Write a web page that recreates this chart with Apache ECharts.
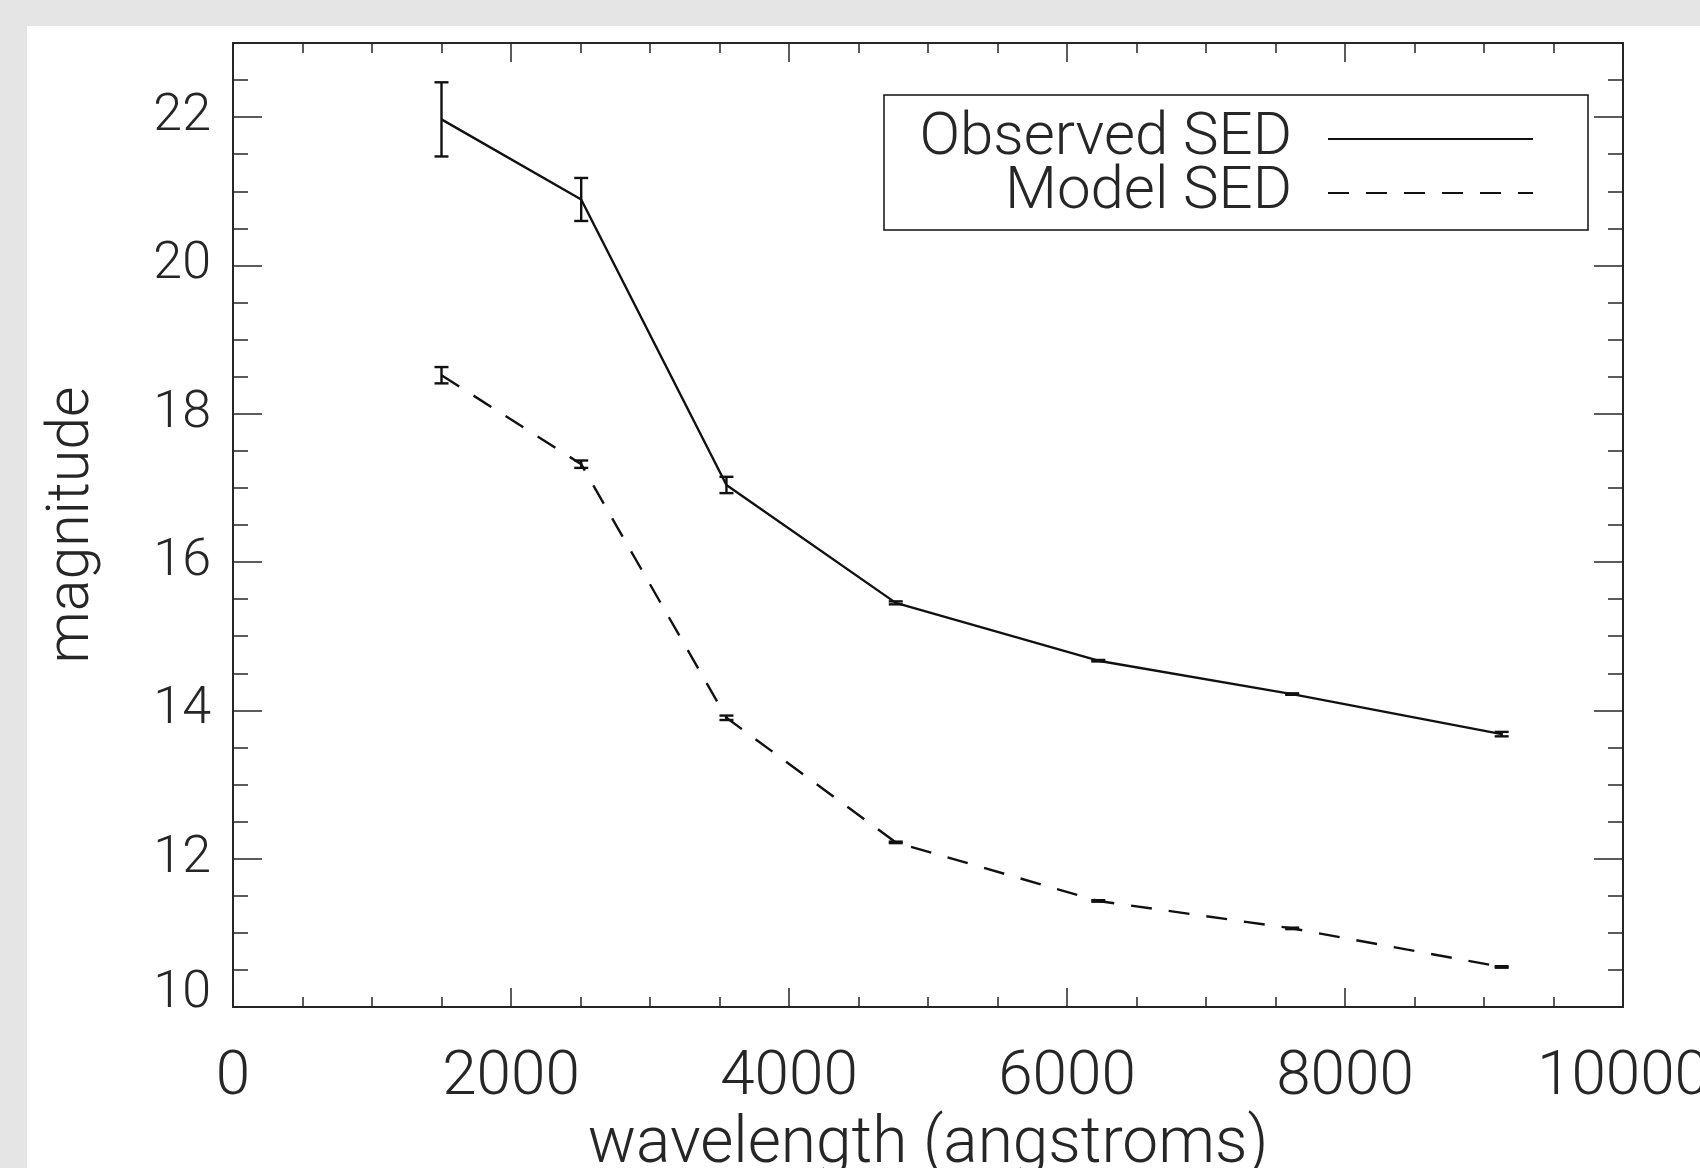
<!DOCTYPE html>
<html>
<head>
<meta charset="utf-8">
<script src="https://cdn.jsdelivr.net/npm/echarts@6/dist/echarts.min.js"></script>
<style>
  html, body { margin: 0; padding: 0; width: 1700px; height: 1168px; background: #e5e5e5; overflow: hidden; }
  #chart { position: absolute; left: 27px; top: 26px; width: 1673px; height: 1142px; background: #ffffff; }
</style>
</head>
<body>
<div id="chart"></div>
<script>
// ---- data ----
const wavelengths = [1500, 2505, 3550, 4768, 6225, 7620, 9127];
const observedMag = [21.97, 20.89, 17.04, 15.45, 14.67, 14.22, 13.68];
const observedErr = [0.50, 0.29, 0.11, 0.02, 0.01, 0.01, 0.03];
const modelMag    = [18.52, 17.32, 13.90, 12.22, 11.43, 11.06, 10.54];
const modelErr    = [0.11, 0.05, 0.03, 0.01, 0.01, 0.01, 0.01];
const seriesNames = ['Observed SED', 'Model SED'];
const xTitle = 'wavelength (angstroms)';
const yTitle = 'magnitude';

const FONT = 'Roboto';
const FW = 300;
const INK = '#262626';

const obsPts = wavelengths.map((w, i) => [w, observedMag[i]]);
const modPts = wavelengths.map((w, i) => [w, modelMag[i]]);
const obsErrData = wavelengths.map((w, i) => [w, observedMag[i], observedErr[i]]);
const modErrData = wavelengths.map((w, i) => [w, modelMag[i], modelErr[i]]);

function errRender(params, api) {
  const x = api.value(0), y = api.value(1), e = api.value(2);
  const top = api.coord([x, y + e]);
  const bot = api.coord([x, y - e]);
  const cap = 7;
  const style = { stroke: '#111', lineWidth: 2.4 };
  return {
    type: 'group',
    children: [
      { type: 'line', shape: { x1: top[0], y1: top[1], x2: bot[0], y2: bot[1] }, style },
      { type: 'line', shape: { x1: top[0] - cap, y1: top[1], x2: top[0] + cap, y2: top[1] }, style },
      { type: 'line', shape: { x1: bot[0] - cap, y1: bot[1], x2: bot[0] + cap, y2: bot[1] }, style }
    ]
  };
}

const axisLineStyle = { color: INK, width: 2 };
const tickStyle = { color: INK, width: 1.5 };

const chart = echarts.init(document.getElementById('chart'), null, { renderer: 'canvas' });
chart.setOption({
  animation: false,
  backgroundColor: 'transparent',
  grid: { left: 206, top: 17, right: 77, bottom: 161, containLabel: false, outerBoundsMode: 'none' },
  legend: {
    data: seriesNames,
    orient: 'vertical',
    left: 857,
    top: 69,
    align: 'right',
    itemWidth: 205,
    itemHeight: 2,
    itemGap: -6,
    padding: [14, 54, 7, 18],
    borderColor: '#111',
    borderWidth: 1.5,
    backgroundColor: '#fff',
    itemStyle: { opacity: 0 },
    formatter: '{t|{name}}',
    textStyle: {
      lineHeight: 52,
      rich: {
        t: { fontFamily: FONT, fontWeight: FW, fontSize: 60, color: INK, width: 390, align: 'right', lineHeight: 52, padding: [0, 31, 0, 0] }
      }
    }
  },
  xAxis: [
    {
      type: 'value', position: 'bottom', min: 0, max: 10000, interval: 2000,
      name: xTitle, nameLocation: 'middle', nameGap: 96,
      nameTextStyle: { fontFamily: FONT, fontWeight: FW, fontSize: 64, color: INK },
      axisLine: { show: true, onZero: false, lineStyle: axisLineStyle },
      axisTick: { show: true, inside: true, length: 19, lineStyle: tickStyle },
      minorTick: { show: true, splitNumber: 4, length: 10, lineStyle: tickStyle },
      axisLabel: { show: true, margin: 40, fontFamily: FONT, fontWeight: FW, fontSize: 62, color: INK,
        formatter: function (v) { return String(v); } },
      splitLine: { show: false }
    },
    {
      type: 'value', position: 'top', min: 0, max: 10000, interval: 2000,
      axisLine: { show: true, onZero: false, lineStyle: axisLineStyle },
      axisTick: { show: true, inside: true, length: 19, lineStyle: tickStyle },
      minorTick: { show: true, splitNumber: 4, length: 10, lineStyle: tickStyle },
      axisLabel: { show: false },
      splitLine: { show: false }
    }
  ],
  yAxis: [
    {
      type: 'value', position: 'left', min: 10, max: 23, interval: 2,
      name: yTitle, nameLocation: 'middle', nameGap: 130, nameRotate: 90,
      nameTextStyle: { fontFamily: FONT, fontWeight: FW, fontSize: 59, color: INK },
      axisLine: { show: true, onZero: false, lineStyle: axisLineStyle },
      axisTick: { show: true, inside: true, length: 29, lineStyle: tickStyle },
      axisLabel: {
        show: true, margin: 22, showMaxLabel: false,
        fontFamily: FONT, fontWeight: FW, fontSize: 52, color: INK,
        formatter: function (v) { return v === 10 ? '{lo|10}' : String(v); },
        rich: { lo: { fontFamily: FONT, fontWeight: FW, fontSize: 52, color: INK, padding: [0, 0, 26, 0] } }
      },
      splitLine: { show: false }
    },
    {
      type: 'value', position: 'right', min: 10, max: 23, interval: 2,
      axisLine: { show: true, onZero: false, lineStyle: axisLineStyle },
      axisTick: { show: true, inside: true, length: 29, lineStyle: tickStyle },
      axisLabel: { show: false },
      splitLine: { show: false }
    },
    {
      type: 'value', position: 'left', offset: 0, min: 10, max: 23, interval: 0.5,
      axisLine: { show: false, onZero: false },
      axisTick: { show: true, inside: true, length: 15, lineStyle: tickStyle },
      axisLabel: { show: false },
      splitLine: { show: false }
    },
    {
      type: 'value', position: 'right', offset: 0, min: 10, max: 23, interval: 0.5,
      axisLine: { show: false, onZero: false },
      axisTick: { show: true, inside: true, length: 15, lineStyle: tickStyle },
      axisLabel: { show: false },
      splitLine: { show: false }
    }
  ],
  series: [
    {
      name: seriesNames[0], type: 'line', xAxisIndex: 0, yAxisIndex: 0,
      data: obsPts, symbol: 'none', color: '#111',
      lineStyle: { color: '#111', width: 2.4, type: 'solid' }
    },
    {
      name: seriesNames[1], type: 'line', xAxisIndex: 0, yAxisIndex: 0,
      data: modPts, symbol: 'none', color: '#111',
      lineStyle: { color: '#111', width: 2.4, type: [21, 17] }
    },
    {
      name: 'obsErr', type: 'custom', xAxisIndex: 0, yAxisIndex: 0,
      data: obsErrData, renderItem: errRender, encode: { x: 0, y: 1 }, silent: true
    },
    {
      name: 'modErr', type: 'custom', xAxisIndex: 0, yAxisIndex: 0,
      data: modErrData, renderItem: errRender, encode: { x: 0, y: 1 }, silent: true
    }
  ]
});
</script>
</body>
</html>
